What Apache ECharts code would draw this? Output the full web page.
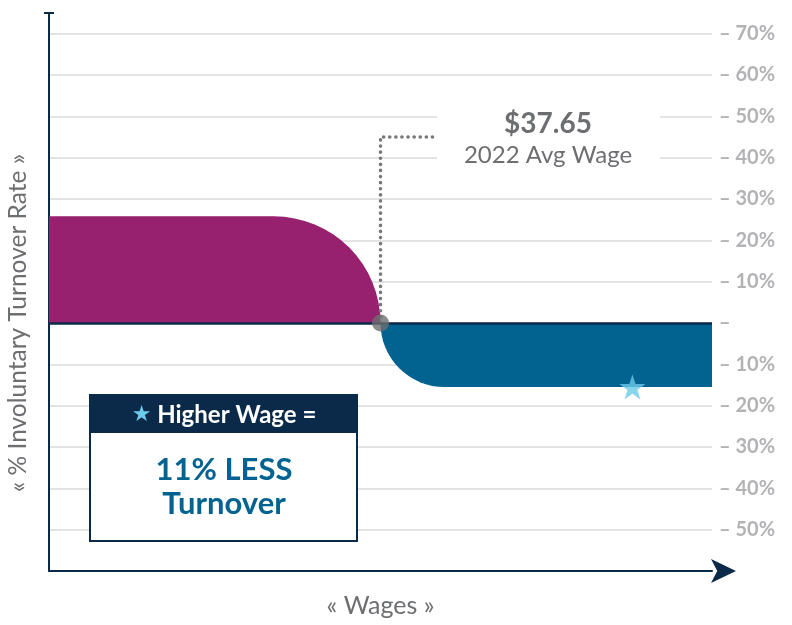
<!DOCTYPE html>
<html>
<head>
<meta charset="utf-8">
<script src="https://cdn.jsdelivr.net/npm/echarts@6/dist/echarts.min.js"></script>
<style>
  html, body { margin: 0; padding: 0; background: #fff; }
  #chart { width: 792px; height: 625px; }
</style>
</head>
<body>
<div id="chart"></div>
<script>
// wage bands either side of the 2022 average wage (x is a 0-100 wage scale)
var bandNames = ['Below avg wage', 'Above avg wage'];
var bandStart = [0, 50];
var bandEnd = [50, 100];
var turnoverDiff = [25.8, -15.5];   // % involuntary turnover vs. avg
var bandColors = ['#97216e', '#026391'];

var avgWageX = 50;
var avgWageText = '$37.65';
var avgWageSub = '2022 Avg Wage';
var leaderPoints = [[50, 0], [50, 45], [58.5, 45]];
var starPoint = [88, -15.5];

// y axis ticks
var yMin = -60;
var yMax = 75;
var yStep = 10;

var navy = '#0b2a4a';
var grayText = '#6d6e71';
var font = 'Lato';

var bandData = bandNames.map(function (n, i) {
  return { name: n, value: [bandStart[i], bandEnd[i], turnoverDiff[i]] };
});

var starPath = 'path://M12,0 L14.9,8.6 L24,8.6 L16.6,14 L19.4,22.8 L12,17.4 L4.6,22.8 L7.4,14 L0,8.6 L9.1,8.6 Z';

var chart = echarts.init(document.getElementById('chart'));

chart.setOption({
  animation: false,
  backgroundColor: '#fff',
  grid: { left: 49, right: 80, top: 13, bottom: 54, outerBoundsMode: 'none' },
  xAxis: {
    type: 'value', min: 0, max: 100,
    name: '« Wages »', nameLocation: 'middle', nameGap: 22,
    nameTextStyle: { color: grayText, fontFamily: font, fontSize: 25 },
    axisLine: {
      show: true, onZero: false, lineStyle: { color: navy, width: 2 },
      symbol: ['none', 'arrow'], symbolSize: [18, 25], symbolOffset: [0, 24]
    },
    axisTick: { show: false },
    axisLabel: { show: false },
    splitLine: { show: false }
  },
  yAxis: [{
    type: 'value', min: yMin, max: yMax, interval: yStep, position: 'right',
    axisLine: { show: false },
    axisTick: { show: false },
    axisLabel: {
      margin: 7,
      color: '#b3b3b6', fontFamily: font, fontWeight: 'bold', fontSize: 20,
      formatter: function (v) {
        if (v === yMax || v === yMin) return '';
        if (v === 0) return '–';
        return '– ' + Math.abs(v) + '%';
      }
    },
    splitLine: {
      show: true, showMinLine: false, showMaxLine: false,
      lineStyle: { color: '#e4e4e4', width: 2 }
    }
  }, {
    type: 'value', min: yMin, max: yMax, interval: yStep, position: 'left',
    axisLine: {
      show: true, onZero: false, lineStyle: { color: navy, width: 2 },
      symbol: ['none', 'rect'], symbolSize: [10, 2]
    },
    axisTick: { show: false },
    axisLabel: { show: false },
    splitLine: { show: false }
  }],
  graphic: [
    // white backing behind the avg wage note (breaks the grid lines)
    { type: 'rect', z: 1, shape: { x: 437, y: 102, width: 223, height: 70 }, style: { fill: '#fff' } },
    {
      type: 'text', z: 1, x: 548, y: 124,
      style: { text: avgWageText, fill: grayText, font: 'bold 28px ' + font, align: 'center', verticalAlign: 'middle' }
    },
    {
      type: 'text', z: 1, x: 548, y: 155,
      style: { text: avgWageSub, fill: grayText, font: '24px ' + font, align: 'center', verticalAlign: 'middle' }
    },
    {
      type: 'text', x: 18, y: 323, rotation: Math.PI / 2,
      style: { text: '« % Involuntary Turnover Rate »', fill: grayText, font: '24.5px ' + font, align: 'center', verticalAlign: 'middle' }
    },
    // callout box
    { type: 'rect', z: 10, shape: { x: 90, y: 395, width: 267, height: 146 }, style: { fill: '#fff', stroke: navy, lineWidth: 2 } },
    { type: 'rect', z: 10, shape: { x: 90, y: 395, width: 267, height: 38 }, style: { fill: navy } },
    {
      type: 'text', z: 11, x: 224, y: 415,
      style: {
        text: '{s|★} Higher Wage =', fill: '#fff', font: 'bold 24px ' + font,
        align: 'center', verticalAlign: 'middle',
        rich: { s: { fill: '#6dcbea', font: '22px DejaVu Sans' } }
      }
    },
    {
      type: 'text', z: 11, x: 224, y: 487,
      style: {
        text: '11% LESS\nTurnover', fill: '#026391', font: 'bold 31px ' + font,
        align: 'center', verticalAlign: 'middle', lineHeight: 34
      }
    }
  ],
  series: [
    {
      type: 'custom',
      name: 'Turnover',
      z: 2,
      encode: { x: [0, 1], y: 2 },
      data: bandData,
      renderItem: function (params, api) {
        var x0 = api.value(0), x1 = api.value(1), v = api.value(2);
        var a = api.coord([x0, 0]);
        var b = api.coord([x1, v]);
        var h = Math.abs(b[1] - a[1]);
        return {
          type: 'rect',
          shape: {
            x: a[0], y: Math.min(a[1], b[1]), width: b[0] - a[0], height: h,
            r: v > 0 ? [0, h, 0, 0] : [0, 0, 0, h]
          },
          style: { fill: bandColors[params.dataIndex] }
        };
      }
    },
    {
      type: 'line',
      z: 3,
      data: leaderPoints,
      showSymbol: false,
      silent: true,
      lineStyle: { color: '#77787b', width: 3.6, type: [0.1, 6], cap: 'round' }
    },
    {
      type: 'scatter',
      z: 5,
      data: [[avgWageX, 0]],
      symbolSize: 17,
      itemStyle: { color: grayText },
      markLine: {
        silent: true, symbol: 'none', label: { show: false },
        lineStyle: { color: navy, width: 2.5, type: 'solid' },
        data: [{ yAxis: 0 }]
      }
    },
    {
      type: 'scatter',
      z: 6,
      data: [starPoint],
      symbol: starPath,
      symbolSize: [26, 25],
      itemStyle: { color: '#6dcbea' }
    }
  ]
});
</script>
</body>
</html>
